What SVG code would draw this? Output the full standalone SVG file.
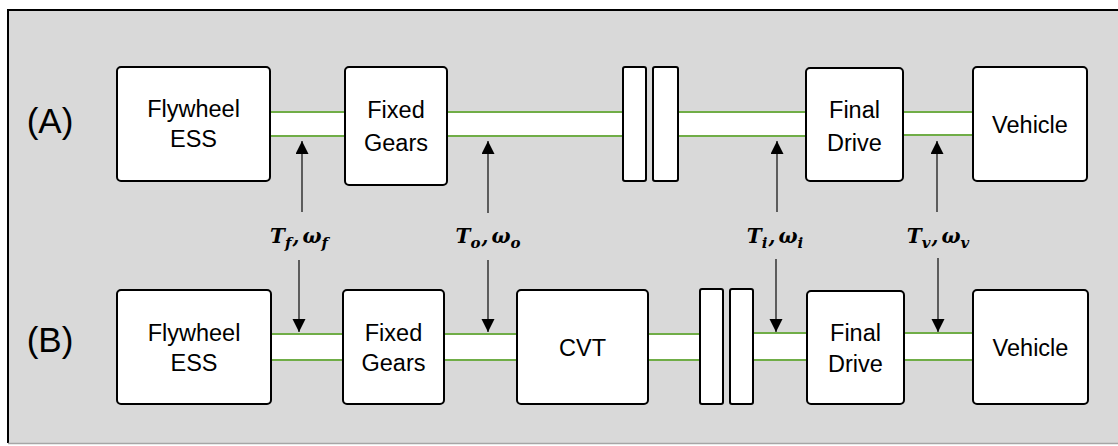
<svg xmlns="http://www.w3.org/2000/svg" width="1118" height="446" viewBox="0 0 1118 446">
  <defs>
    <marker id="ah" markerUnits="userSpaceOnUse" markerWidth="14" markerHeight="14" refX="13" refY="6.5" orient="auto">
      <path d="M0,0 L13,6.5 L0,13 z" fill="#000"/>
    </marker>
    <style>
      .box { fill: #ffffff; stroke: #000000; stroke-width: 2; }
      .txt { font-family: "Liberation Sans", Arial, sans-serif; font-size: 23.5px; fill: #000; text-anchor: middle; }
      .tag { font-family: "Liberation Sans", Arial, sans-serif; font-size: 35px; fill: #000; text-anchor: middle; }
      .shaft { fill: #ffffff; }
      .green { stroke: #70ad47; stroke-width: 2; fill: none; }
      .arr { stroke: #1a1a1a; stroke-width: 1.3; fill: none; marker-end: url(#ah); }
      .lbl { font-family: "DejaVu Serif", "Liberation Serif", serif; font-weight: bold; font-style: italic; font-size: 20px; fill: #000; text-anchor: middle; }
      .sub { font-size: 15px; }
    </style>
  </defs>

  <!-- frame -->
  <rect x="8" y="10" width="1120" height="433" fill="#d9d9d9"/>
  <line x1="7" y1="10" x2="1118" y2="10" stroke="#000" stroke-width="2"/>
  <line x1="8" y1="9" x2="8" y2="443" stroke="#000" stroke-width="2"/>
  <line x1="8" y1="443.5" x2="1118" y2="443.5" stroke="#a6a6a6" stroke-width="1.5"/>

  <text class="tag" x="50" y="133">(A)</text>
  <text class="tag" x="50" y="352">(B)</text>

  <!-- shafts / connectors -->
  <g id="connectors">
    <!-- row A shafts -->
    <rect class="shaft" x="270" y="112" width="75" height="24"/>
    <line class="green" x1="270" y1="112" x2="345" y2="112"/>
    <line class="green" x1="270" y1="136" x2="345" y2="136"/>
    <rect class="shaft" x="447" y="112" width="176" height="24"/>
    <line class="green" x1="447" y1="112" x2="623" y2="112"/>
    <line class="green" x1="447" y1="136" x2="623" y2="136"/>
    <rect class="shaft" x="678" y="112" width="128" height="24"/>
    <line class="green" x1="678" y1="112" x2="806" y2="112"/>
    <line class="green" x1="678" y1="136" x2="806" y2="136"/>
    <rect class="shaft" x="903" y="112" width="70" height="23"/>
    <line class="green" x1="903" y1="112" x2="973" y2="112"/>
    <line class="green" x1="903" y1="135" x2="973" y2="135"/>
    <!-- row B shafts -->
    <rect class="shaft" x="271" y="334" width="72" height="26"/>
    <line class="green" x1="271" y1="334" x2="343" y2="334"/>
    <line class="green" x1="271" y1="360" x2="343" y2="360"/>
    <rect class="shaft" x="444" y="334" width="73" height="26"/>
    <line class="green" x1="444" y1="334" x2="517" y2="334"/>
    <line class="green" x1="444" y1="360" x2="517" y2="360"/>
    <rect class="shaft" x="648" y="334" width="52" height="26"/>
    <line class="green" x1="648" y1="334" x2="700" y2="334"/>
    <line class="green" x1="648" y1="360" x2="700" y2="360"/>
    <rect class="shaft" x="753" y="333" width="54" height="27"/>
    <line class="green" x1="753" y1="333" x2="807" y2="333"/>
    <line class="green" x1="753" y1="360" x2="807" y2="360"/>
    <rect class="shaft" x="904" y="333" width="69" height="27"/>
    <line class="green" x1="904" y1="333" x2="973" y2="333"/>
    <line class="green" x1="904" y1="360" x2="973" y2="360"/>

    <!-- arrows row A (up) -->
    <line class="arr" x1="302" y1="212" x2="302" y2="141"/>
    <line class="arr" x1="488" y1="213" x2="488" y2="141"/>
    <line class="arr" x1="777" y1="212" x2="777" y2="141"/>
    <line class="arr" x1="937" y1="212" x2="937" y2="141"/>
    <!-- arrows row B (down) -->
    <line class="arr" x1="299" y1="260" x2="299" y2="332"/>
    <line class="arr" x1="488" y1="260" x2="488" y2="332"/>
    <line class="arr" x1="776" y1="259" x2="776" y2="332"/>
    <line class="arr" x1="938" y1="258" x2="938" y2="332"/>
  </g>

  <!-- signal labels -->
  <g id="labels">
    <text class="lbl" x="299" y="243">T<tspan class="sub" dy="5">f</tspan><tspan dy="-5" dx="1">,</tspan><tspan dx="3">ω</tspan><tspan class="sub" dy="5">f</tspan></text>
    <text class="lbl" x="488" y="243">T<tspan class="sub" dy="5">o</tspan><tspan dy="-5" dx="1">,</tspan><tspan dx="3">ω</tspan><tspan class="sub" dy="5">o</tspan></text>
    <text class="lbl" x="775" y="243">T<tspan class="sub" dy="5">i</tspan><tspan dy="-5" dx="1">,</tspan><tspan dx="3">ω</tspan><tspan class="sub" dy="5">i</tspan></text>
    <text class="lbl" x="938" y="243">T<tspan class="sub" dy="5">v</tspan><tspan dy="-5" dx="1">,</tspan><tspan dx="3">ω</tspan><tspan class="sub" dy="5">v</tspan></text>
  </g>

  <!-- row A nodes -->
  <g id="flywheelA">
    <rect class="box" x="117" y="67" width="153" height="114" rx="4"/>
    <text class="txt" x="193.5" y="117">Flywheel</text>
    <text class="txt" x="193.5" y="147">ESS</text>
  </g>
  <g id="gearsA">
    <rect class="box" x="345" y="67" width="102" height="118" rx="4"/>
    <text class="txt" x="396" y="118">Fixed</text>
    <text class="txt" x="396" y="151">Gears</text>
  </g>
  <g id="clutchA">
    <rect class="box" x="623" y="67" width="23" height="114" rx="2"/>
    <rect class="box" x="653" y="67" width="25" height="114" rx="2"/>
  </g>
  <g id="finalDriveA">
    <rect class="box" x="806" y="68" width="97" height="113" rx="4"/>
    <text class="txt" x="854.5" y="118">Final</text>
    <text class="txt" x="854.5" y="151">Drive</text>
  </g>
  <g id="vehicleA">
    <rect class="box" x="973" y="67" width="114" height="114" rx="4"/>
    <text class="txt" x="1030" y="133">Vehicle</text>
  </g>

  <!-- row B nodes -->
  <g id="flywheelB">
    <rect class="box" x="117" y="290" width="154" height="114" rx="4"/>
    <text class="txt" x="194" y="341">Flywheel</text>
    <text class="txt" x="194" y="371">ESS</text>
  </g>
  <g id="gearsB">
    <rect class="box" x="343" y="290" width="101" height="114" rx="4"/>
    <text class="txt" x="393.5" y="341">Fixed</text>
    <text class="txt" x="393.5" y="371">Gears</text>
  </g>
  <g id="cvtB">
    <rect class="box" x="517" y="290" width="131" height="114" rx="4"/>
    <text class="txt" x="582.5" y="356">CVT</text>
  </g>
  <g id="clutchB">
    <rect class="box" x="700" y="289" width="23" height="115" rx="2"/>
    <rect class="box" x="730" y="289" width="23" height="115" rx="2"/>
  </g>
  <g id="finalDriveB">
    <rect class="box" x="807" y="291" width="97" height="113" rx="4"/>
    <text class="txt" x="855.5" y="341">Final</text>
    <text class="txt" x="855.5" y="372">Drive</text>
  </g>
  <g id="vehicleB">
    <rect class="box" x="973" y="290" width="115" height="114" rx="4"/>
    <text class="txt" x="1030.5" y="356">Vehicle</text>
  </g>
</svg>
